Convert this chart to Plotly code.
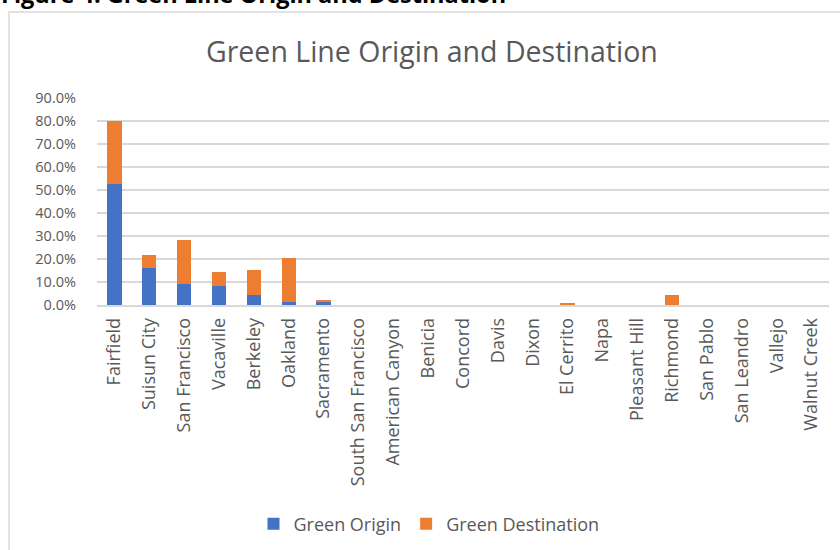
import plotly.graph_objects as go

# Share of Green Line trips by city (fractions of all trips)
cities = [
    "Fairfield", "Suisun City", "San Francisco", "Vacaville", "Berkeley",
    "Oakland", "Sacramento", "South San Francisco", "American Canyon",
    "Benicia", "Concord", "Davis", "Dixon", "El Cerrito", "Napa",
    "Pleasant Hill", "Richmond", "San Pablo", "San Leandro", "Vallejo",
    "Walnut Creek",
]
green_origin = [
    0.525, 0.160, 0.090, 0.081, 0.042, 0.013, 0.012, 0.0, 0.0, 0.0, 0.0,
    0.0, 0.0, 0.0, 0.0, 0.0, 0.0, 0.0, 0.0, 0.0, 0.0,
]
green_destination = [
    0.277, 0.056, 0.191, 0.061, 0.112, 0.193, 0.010, 0.0, 0.0, 0.0, 0.0,
    0.0, 0.0, 0.007, 0.0, 0.0, 0.042, 0.0, 0.0, 0.0, 0.0,
]
y_ticks = [0.0, 0.1, 0.2, 0.3, 0.4, 0.5, 0.6, 0.7, 0.8, 0.9]

FONT = "'Open Sans', Lato, sans-serif"
GREY = "#595959"
BLUE = "#4472C4"
ORANGE = "#ED7D31"

W, H = 840, 550
L, R, T, B = 97, 11, 98, 245  # plot area in pixels


def px_x(px):
    return (px - L) / (W - L - R)


def px_y(py):
    return (H - B - py) / (H - T - B)


fig = go.Figure()
fig.add_trace(go.Bar(
    x=cities, y=green_origin, name="Green Origin",
    marker=dict(color=BLUE, line=dict(width=0)),
))
fig.add_trace(go.Bar(
    x=cities, y=green_destination, name="Green Destination",
    marker=dict(color=ORANGE, line=dict(width=0)),
))

fig.update_layout(
    width=W, height=H,
    margin=dict(l=L, r=R, t=T, b=B, autoexpand=False),
    barmode="stack",
    bargap=0.59,
    paper_bgcolor="white",
    plot_bgcolor="white",
    font=dict(family=FONT, color=GREY),
    showlegend=True,
    legend=dict(
        orientation="h", x=px_x(429), xanchor="center",
        y=px_y(524), yanchor="middle",
        font=dict(size=18, color=GREY),
        itemwidth=30, traceorder="normal",
    ),
    xaxis=dict(
        tickangle=-90, tickfont=dict(size=18, color=GREY),
        showgrid=False, showline=True, linecolor="#D9D9D9", linewidth=1.5,
        ticks="", ticklabelstandoff=4, automargin=False,
    ),
    yaxis=dict(
        range=[0, 0.9], tickvals=y_ticks, tickformat=".1%",
        tickfont=dict(size=14.5, color=GREY),
        showgrid=True, gridcolor="#D9D9D9", gridwidth=1.5,
        zeroline=False, showline=False, ticks="", ticklabelstandoff=20,
        automargin=False,
    ),
    shapes=[
        dict(type="rect", xref="paper", yref="paper",
             x0=px_x(9), x1=px_x(860), y0=px_y(12), y1=px_y(560),
             line=dict(color="#D9D9D9", width=1.5), fillcolor="rgba(0,0,0,0)",
             layer="below"),
    ],
    annotations=[
        dict(text="Green Line Origin and Destination", xref="paper", yref="paper",
             x=px_x(432), y=px_y(51), xanchor="center", yanchor="middle",
             showarrow=False, font=dict(size=28.5, color=GREY, family=FONT)),
        dict(text="<b>Figure 4: Green Line Origin and Destination</b>",
             xref="paper", yref="paper", x=px_x(-1), y=px_y(12),
             xanchor="left", yanchor="bottom", showarrow=False,
             font=dict(size=23.5, color="black", family=FONT)),
    ],
)

fig.write_html("out.html")
